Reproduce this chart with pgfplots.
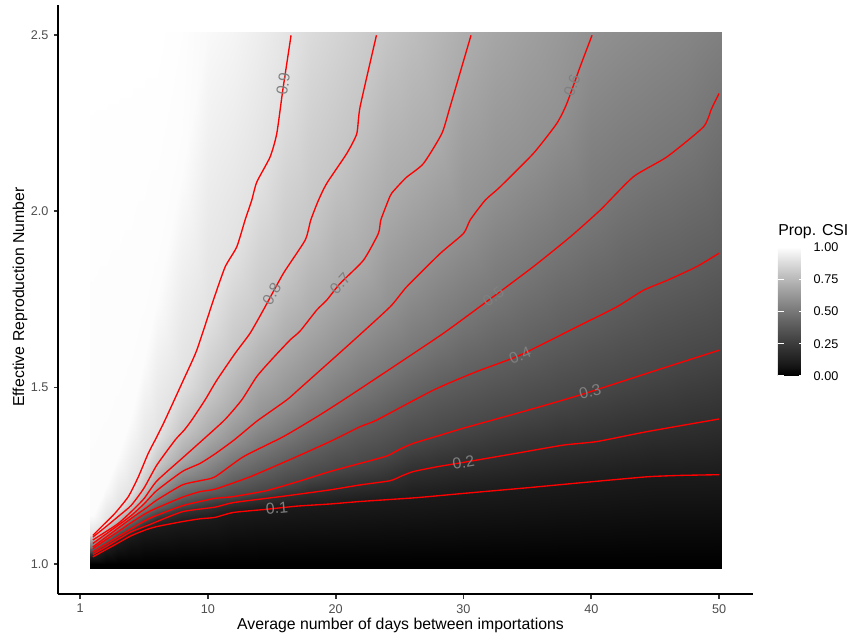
\documentclass[border=0pt]{standalone}
\usepackage{fontspec}
\setmainfont{Liberation Sans}
\usepackage{pgfplots}
\pgfplotsset{compat=1.18}
\definecolor{tickgray}{RGB}{77,77,77}
\definecolor{tickline}{RGB}{51,51,51}
\definecolor{lblgray}{RGB}{128,128,128}
\tikzset{lbl/.style={font=\fontsize{10}{12}\selectfont, text=lblgray, inner sep=0pt},
  cl/.style={red, line width=0.85pt, smooth, tension=0.35}}
\begin{document}
\begin{tikzpicture}
\pgfplotsset{colormap={ggray}{rgb255=(0,0,0) rgb255=(27,27,27) rgb255=(48,48,48) rgb255=(71,71,71) rgb255=(94,94,94) rgb255=(119,119,119) rgb255=(145,145,145) rgb255=(171,171,171) rgb255=(198,198,198) rgb255=(226,226,226) rgb255=(255,255,255)}}
\begin{axis}[
  name=main, at={(0pt,0pt)}, anchor=south west,
  scale only axis, width=439.4pt, height=372.5pt,
  xmin=-1.70, xmax=52.66, ymin=0.914, ymax=2.584,
  axis lines*=left,
  axis line style={-, black, line width=1.07pt},
  xtick={0,10,20,30,40,50}, xticklabels={1,10,20,30,40,50},
  ytick={1,1.5,2,2.5}, yticklabels={1.0,1.5,2.0,2.5},
  tick align=outside, major tick length=2.75pt,
  major tick style={tickline, line width=1.07pt},
  ticklabel style={font=\fontsize{8}{10}\selectfont, text=tickgray},
  colormap name=ggray, point meta min=0, point meta max=1,
  colorbar,
  colorbar style={
    at={(parent axis.south east)}, anchor=south west,
    xshift=7.2pt, yshift=138.1pt,
    scale only axis, width=16.9pt, height=81.6pt,
    axis line style={draw=none},
    ytick={0,0.25,0.5,0.75,1}, yticklabels={0.00,0.25,0.50,0.75,1.00},
    ytick pos=both, yticklabel pos=right,
    tick align=inside, major tick length=3.6pt,
    major tick style={white, line width=0.6pt},
    yticklabel style={font=\fontsize{8}{10}\selectfont, text=black, inner sep=0pt, xshift=5.5pt},
  },
]
\addplot[surf, shader=interp, mesh/rows=28, mesh/cols=13, point meta=\thisrow{z}] table[x=x, y=y, row sep=\\] {
x y z \\
0.77 0.987 0 \\ 0.77 1.0 0 \\ 0.77 1.020 0.1 \\ 0.77 1.027 0.2 \\ 0.77 1.034 0.3 \\ 0.77 1.043 0.4 \\ 0.77 1.048 0.5 \\ 0.77 1.058 0.6 \\ 0.77 1.068 0.7 \\ 0.77 1.076 0.8 \\ 0.77 1.081 0.9 \\ 0.77 1.14 0.99 \\ 0.77 2.508 1 \\
1 0.987 0 \\ 1 1.0 0 \\ 1 1.020 0.1 \\ 1 1.027 0.2 \\ 1 1.034 0.3 \\ 1 1.043 0.4 \\ 1 1.048 0.5 \\ 1 1.058 0.6 \\ 1 1.068 0.7 \\ 1 1.076 0.8 \\ 1 1.081 0.9 \\ 1 1.14 0.99 \\ 1 2.508 1 \\
2 0.987 0 \\ 2 1.0 0 \\ 2 1.040 0.1 \\ 2 1.048 0.2 \\ 2 1.056 0.3 \\ 2 1.068 0.4 \\ 2 1.075 0.5 \\ 2 1.084 0.6 \\ 2 1.091 0.7 \\ 2 1.105 0.8 \\ 2 1.117 0.9 \\ 2 1.22 0.99 \\ 2 2.508 1 \\
3 0.987 0 \\ 3 1.0 0 \\ 3 1.060 0.1 \\ 3 1.070 0.2 \\ 3 1.078 0.3 \\ 3 1.092 0.4 \\ 3 1.102 0.5 \\ 3 1.110 0.6 \\ 3 1.115 0.7 \\ 3 1.135 0.8 \\ 3 1.156 0.9 \\ 3 1.31 0.99 \\ 3 2.508 1 \\
4 0.987 0 \\ 4 1.0 0 \\ 4 1.080 0.1 \\ 4 1.091 0.2 \\ 4 1.100 0.3 \\ 4 1.117 0.4 \\ 4 1.129 0.5 \\ 4 1.137 0.6 \\ 4 1.148 0.7 \\ 4 1.166 0.8 \\ 4 1.203 0.9 \\ 4 1.42 0.99 \\ 4 2.508 1 \\
5 0.987 0 \\ 5 1.0 0 \\ 5 1.098 0.1 \\ 5 1.110 0.2 \\ 5 1.123 0.3 \\ 5 1.141 0.4 \\ 5 1.156 0.5 \\ 5 1.170 0.6 \\ 5 1.185 0.7 \\ 5 1.215 0.8 \\ 5 1.285 0.9 \\ 5 1.58 0.99 \\ 5 2.508 1 \\
6 0.987 0 \\ 6 1.0 0 \\ 6 1.106 0.1 \\ 6 1.126 0.2 \\ 6 1.142 0.3 \\ 6 1.160 0.4 \\ 6 1.181 0.5 \\ 6 1.208 0.6 \\ 6 1.235 0.7 \\ 6 1.280 0.8 \\ 6 1.360 0.9 \\ 6 1.75 0.99 \\ 6 2.508 1 \\
8 0.987 0 \\ 8 1.0 0 \\ 8 1.120 0.1 \\ 8 1.148 0.2 \\ 8 1.165 0.3 \\ 8 1.189 0.4 \\ 8 1.224 0.5 \\ 8 1.262 0.6 \\ 8 1.300 0.7 \\ 8 1.376 0.8 \\ 8 1.515 0.9 \\ 8 2.115 0.99 \\ 8 2.508 0.995 \\
10 0.987 0 \\ 10 1.0 0 \\ 10 1.128 0.1 \\ 10 1.158 0.2 \\ 10 1.180 0.3 \\ 10 1.207 0.4 \\ 10 1.245 0.5 \\ 10 1.300 0.6 \\ 10 1.365 0.7 \\ 10 1.478 0.8 \\ 10 1.701 0.9 \\ 10 2.508 0.98 \\ 10 2.508 0.98 \\
12 0.987 0 \\ 12 1.0 0 \\ 12 1.146 0.1 \\ 12 1.174 0.2 \\ 12 1.191 0.3 \\ 12 1.232 0.4 \\ 12 1.290 0.5 \\ 12 1.350 0.6 \\ 12 1.438 0.7 \\ 12 1.590 0.8 \\ 12 1.883 0.9 \\ 12 2.508 0.965 \\ 12 2.508 0.965 \\
14 0.987 0 \\ 14 1.0 0 \\ 14 1.155 0.1 \\ 14 1.185 0.2 \\ 14 1.205 0.3 \\ 14 1.258 0.4 \\ 14 1.326 0.5 \\ 14 1.408 0.6 \\ 14 1.538 0.7 \\ 14 1.698 0.8 \\ 14 2.095 0.9 \\ 14 2.508 0.94 \\ 14 2.508 0.94 \\
16 0.987 0 \\ 16 1.0 0 \\ 16 1.161 0.1 \\ 16 1.196 0.2 \\ 16 1.225 0.3 \\ 16 1.289 0.4 \\ 16 1.363 0.5 \\ 16 1.460 0.6 \\ 16 1.618 0.7 \\ 16 1.829 0.8 \\ 16 2.377 0.9 \\ 16 2.508 0.91 \\ 16 2.508 0.91 \\
18 0.987 0 \\ 18 1.0 0 \\ 18 1.166 0.1 \\ 18 1.207 0.2 \\ 18 1.246 0.3 \\ 18 1.321 0.4 \\ 18 1.406 0.5 \\ 18 1.524 0.6 \\ 18 1.694 0.7 \\ 18 1.967 0.8 \\ 18 2.508 0.875 \\ 18 2.508 0.875 \\ 18 2.508 0.875 \\
20 0.987 0 \\ 20 1.0 0 \\ 20 1.171 0.1 \\ 20 1.217 0.2 \\ 20 1.267 0.3 \\ 20 1.355 0.4 \\ 20 1.451 0.5 \\ 20 1.590 0.6 \\ 20 1.780 0.7 \\ 20 2.140 0.8 \\ 20 2.508 0.85 \\ 20 2.508 0.85 \\ 20 2.508 0.85 \\
22 0.987 0 \\ 22 1.0 0 \\ 22 1.176 0.1 \\ 22 1.226 0.2 \\ 22 1.284 0.3 \\ 22 1.388 0.4 \\ 22 1.499 0.5 \\ 22 1.654 0.6 \\ 22 1.855 0.7 \\ 22 2.313 0.8 \\ 22 2.508 0.825 \\ 22 2.508 0.825 \\ 22 2.508 0.825 \\
24 0.987 0 \\ 24 1.0 0 \\ 24 1.182 0.1 \\ 24 1.237 0.2 \\ 24 1.306 0.3 \\ 24 1.423 0.4 \\ 24 1.547 0.5 \\ 24 1.720 0.6 \\ 24 2.019 0.7 \\ 24 2.508 0.797 \\ 24 2.508 0.797 \\ 24 2.508 0.797 \\ 24 2.508 0.797 \\
26 0.987 0 \\ 26 1.0 0 \\ 26 1.187 0.1 \\ 26 1.265 0.2 \\ 26 1.341 0.3 \\ 26 1.461 0.4 \\ 26 1.595 0.5 \\ 26 1.802 0.6 \\ 26 2.107 0.7 \\ 26 2.508 0.77 \\ 26 2.508 0.77 \\ 26 2.508 0.77 \\ 26 2.508 0.77 \\
28 0.987 0 \\ 28 1.0 0 \\ 28 1.193 0.1 \\ 28 1.278 0.2 \\ 28 1.363 0.3 \\ 28 1.498 0.4 \\ 28 1.644 0.5 \\ 28 1.874 0.6 \\ 28 2.199 0.7 \\ 28 2.508 0.74 \\ 28 2.508 0.74 \\ 28 2.508 0.74 \\ 28 2.508 0.74 \\
30 0.987 0 \\ 30 1.0 0 \\ 30 1.200 0.1 \\ 30 1.290 0.2 \\ 30 1.385 0.3 \\ 30 1.527 0.4 \\ 30 1.698 0.5 \\ 30 1.937 0.6 \\ 30 2.426 0.7 \\ 30 2.508 0.71 \\ 30 2.508 0.71 \\ 30 2.508 0.71 \\ 30 2.508 0.71 \\
32.5 0.987 0 \\ 32.5 1.0 0 \\ 32.5 1.208 0.1 \\ 32.5 1.304 0.2 \\ 32.5 1.410 0.3 \\ 32.5 1.564 0.4 \\ 32.5 1.762 0.5 \\ 32.5 2.057 0.6 \\ 32.5 2.508 0.68 \\ 32.5 2.508 0.68 \\ 32.5 2.508 0.68 \\ 32.5 2.508 0.68 \\ 32.5 2.508 0.68 \\
35 0.987 0 \\ 35 1.0 0 \\ 35 1.216 0.1 \\ 35 1.319 0.2 \\ 35 1.435 0.3 \\ 35 1.602 0.4 \\ 35 1.830 0.5 \\ 35 2.147 0.6 \\ 35 2.508 0.655 \\ 35 2.508 0.655 \\ 35 2.508 0.655 \\ 35 2.508 0.655 \\ 35 2.508 0.655 \\
37.5 0.987 0 \\ 37.5 1.0 0 \\ 37.5 1.225 0.1 \\ 37.5 1.335 0.2 \\ 37.5 1.462 0.3 \\ 37.5 1.647 0.4 \\ 37.5 1.903 0.5 \\ 37.5 2.263 0.6 \\ 37.5 2.508 0.63 \\ 37.5 2.508 0.63 \\ 37.5 2.508 0.63 \\ 37.5 2.508 0.63 \\ 37.5 2.508 0.63 \\
40 0.987 0 \\ 40 1.0 0 \\ 40 1.233 0.1 \\ 40 1.345 0.2 \\ 40 1.489 0.3 \\ 40 1.692 0.4 \\ 40 1.981 0.5 \\ 40 2.493 0.6 \\ 40 2.508 0.6 \\ 40 2.508 0.6 \\ 40 2.508 0.6 \\ 40 2.508 0.6 \\ 40 2.508 0.6 \\
42.5 0.987 0 \\ 42.5 1.0 0 \\ 42.5 1.241 0.1 \\ 42.5 1.362 0.2 \\ 42.5 1.519 0.3 \\ 42.5 1.740 0.4 \\ 42.5 2.069 0.5 \\ 42.5 2.508 0.585 \\ 42.5 2.508 0.585 \\ 42.5 2.508 0.585 \\ 42.5 2.508 0.585 \\ 42.5 2.508 0.585 \\ 42.5 2.508 0.585 \\
45 0.987 0 \\ 45 1.0 0 \\ 45 1.248 0.1 \\ 45 1.379 0.2 \\ 45 1.548 0.3 \\ 45 1.791 0.4 \\ 45 2.134 0.5 \\ 45 2.508 0.57 \\ 45 2.508 0.57 \\ 45 2.508 0.57 \\ 45 2.508 0.57 \\ 45 2.508 0.57 \\ 45 2.508 0.57 \\
47.5 0.987 0 \\ 47.5 1.0 0 \\ 47.5 1.250 0.1 \\ 47.5 1.395 0.2 \\ 47.5 1.577 0.3 \\ 47.5 1.831 0.4 \\ 47.5 2.201 0.5 \\ 47.5 2.508 0.555 \\ 47.5 2.508 0.555 \\ 47.5 2.508 0.555 \\ 47.5 2.508 0.555 \\ 47.5 2.508 0.555 \\ 47.5 2.508 0.555 \\
50 0.987 0 \\ 50 1.0 0 \\ 50 1.253 0.1 \\ 50 1.411 0.2 \\ 50 1.606 0.3 \\ 50 1.881 0.4 \\ 50 2.340 0.5 \\ 50 2.508 0.535 \\ 50 2.508 0.535 \\ 50 2.508 0.535 \\ 50 2.508 0.535 \\ 50 2.508 0.535 \\ 50 2.508 0.535 \\
50.19 0.987 0 \\ 50.19 1.0 0 \\ 50.19 1.253 0.1 \\ 50.19 1.411 0.2 \\ 50.19 1.606 0.3 \\ 50.19 1.881 0.4 \\ 50.19 2.340 0.5 \\ 50.19 2.508 0.535 \\ 50.19 2.508 0.535 \\ 50.19 2.508 0.535 \\ 50.19 2.508 0.535 \\ 50.19 2.508 0.535 \\ 50.19 2.508 0.535 \\
};
% contours
\addplot[cl] coordinates {(1.0,1.020) (2,1.040) (3,1.060) (4,1.080) (5.09,1.096) (6,1.106) (8,1.120) (9.39,1.128) (10.56,1.132) (12,1.146) (14.61,1.155) (17,1.164) (19.56,1.170) (21.9,1.177) (26.35,1.188) (30,1.200) (35,1.216) (39.12,1.230) (44.34,1.247) (47,1.251) (50,1.253)};
\addplot[cl] coordinates {(1.0,1.027) (2,1.048) (3,1.070) (4,1.091) (5.48,1.112) (8,1.148) (10.56,1.161) (12,1.174) (15.91,1.192) (19.56,1.210) (21.9,1.224) (24.26,1.236) (25.2,1.250) (26.08,1.262) (28,1.276) (30,1.288) (34.17,1.314) (37.82,1.337) (40.43,1.347) (44.34,1.375) (50,1.411)};
\addplot[cl] coordinates {(1.0,1.034) (2,1.056) (3,1.078) (4,1.100) (5.48,1.130) (8,1.165) (9.39,1.177) (10.56,1.186) (12,1.191) (14.61,1.208) (17,1.233) (19.56,1.262) (21.9,1.285) (24.0,1.306) (25,1.325) (26.08,1.342) (28,1.363) (30,1.385) (34.17,1.427) (37.82,1.465) (39.9,1.488) (45,1.548) (50,1.606)};
\addplot[cl] coordinates {(1.0,1.043) (2,1.068) (3,1.092) (4,1.117) (5.48,1.150) (8,1.189) (9.39,1.205) (10.56,1.212) (13.30,1.247) (16.69,1.300) (19.56,1.347) (21.9,1.389) (23.21,1.408) (27.65,1.493) (31,1.545) (34.43,1.592) (38.86,1.672) (42.0,1.729) (44.08,1.776) (46,1.805) (48.25,1.843) (50,1.881)};
\addplot[cl] coordinates {(1.0,1.048) (2,1.075) (3,1.102) (4,1.129) (5.22,1.160) (6,1.181) (8,1.224) (9.39,1.236) (10.56,1.247) (12.78,1.304) (15.91,1.361) (18.52,1.417) (20.6,1.465) (23.73,1.540) (28.43,1.654) (32.34,1.758) (35.47,1.843) (38.34,1.927) (40.69,2.003) (43.30,2.098) (45.91,2.154) (48.77,2.239) (49.4,2.290) (50,2.334)};
\addplot[cl] coordinates {(1.0,1.058) (2,1.084) (3,1.110) (4,1.137) (5,1.170) (6,1.208) (8,1.262) (9.39,1.285) (10.56,1.312) (12,1.350) (13.30,1.389) (13.95,1.408) (16.17,1.465) (17.21,1.498) (21.13,1.625) (24.26,1.729) (25.56,1.786) (28.17,1.880) (30.0,1.937) (30.52,1.975) (31.69,2.031) (32.86,2.069) (35.47,2.164) (37.30,2.249) (38.08,2.305) (39.12,2.409) (40.06,2.499)};
\addplot[cl] coordinates {(1.0,1.068) (2,1.091) (3,1.115) (4,1.148) (5,1.185) (6,1.235) (8,1.300) (9.39,1.345) (11.3,1.408) (12.65,1.465) (13.82,1.531) (15,1.580) (16.43,1.635) (17.21,1.660) (18.52,1.720) (19.30,1.748) (20.34,1.795) (22.17,1.861) (23.34,1.937) (23.53,1.975) (24.12,2.031) (24.4,2.052) (25.5,2.095) (26.86,2.135) (28.30,2.220) (28.95,2.296) (30.59,2.499)};
\addplot[cl] coordinates {(1.0,1.076) (2,1.105) (3,1.135) (4,1.166) (5,1.215) (6,1.280) (7.43,1.351) (8.16,1.380) (8.74,1.408) (9.78,1.465) (10.70,1.521) (12.13,1.597) (13.30,1.654) (14.34,1.720) (15.91,1.824) (17.61,1.918) (18.05,1.975) (18.65,2.031) (19.30,2.079) (20.87,2.164) (21.65,2.220) (21.91,2.296) (23.19,2.499)};
\addplot[cl] coordinates {(1.0,1.081) (2,1.117) (2.74,1.144) (3.78,1.191) (4.56,1.247) (5.34,1.314) (6.00,1.360) (6.65,1.408) (8.08,1.521) (9.13,1.606) (10.43,1.748) (11.35,1.842) (12.26,1.899) (12.91,1.975) (13.43,2.031) (13.83,2.083) (14.87,2.154) (15.39,2.220) (15.86,2.343) (16.51,2.499)};
% contour labels
\node[lbl, rotate=5] at (axis cs:15.4,1.158) {0.1};
\node[lbl, rotate=10] at (axis cs:30,1.288) {0.2};
\node[lbl, rotate=15] at (axis cs:39.9,1.488) {0.3};
\node[lbl, rotate=22] at (axis cs:34.43,1.592) {0.4};
\node[lbl, rotate=36] at (axis cs:32.34,1.758) {0.5};
\node[lbl, rotate=70] at (axis cs:38.5,2.357) {0.6};
\node[lbl, rotate=47] at (axis cs:20.34,1.795) {0.7};
\node[lbl, rotate=61] at (axis cs:15.0,1.765) {0.8};
\node[lbl, rotate=81] at (axis cs:15.9,2.36) {0.9};
\end{axis}
\node[anchor=base, inner sep=0pt, font=\fontsize{10}{12}\selectfont] at (216.4pt,-22.2pt) {Average number of days between importations};
\node[anchor=base, rotate=90, inner sep=0pt, font=\fontsize{10}{12}\selectfont] at (-21.7pt,188pt) {Effective Reproduction Number};
\node[anchor=base west, inner sep=0pt, font=\fontsize{10}{12}\selectfont] at (455.2pt,226.6pt) {Prop. CSI};
\pgfresetboundingbox
\path[use as bounding box] (-36.9pt,-26.4pt) rectangle (500.7pt,375.85pt);
\end{tikzpicture}
\end{document}
